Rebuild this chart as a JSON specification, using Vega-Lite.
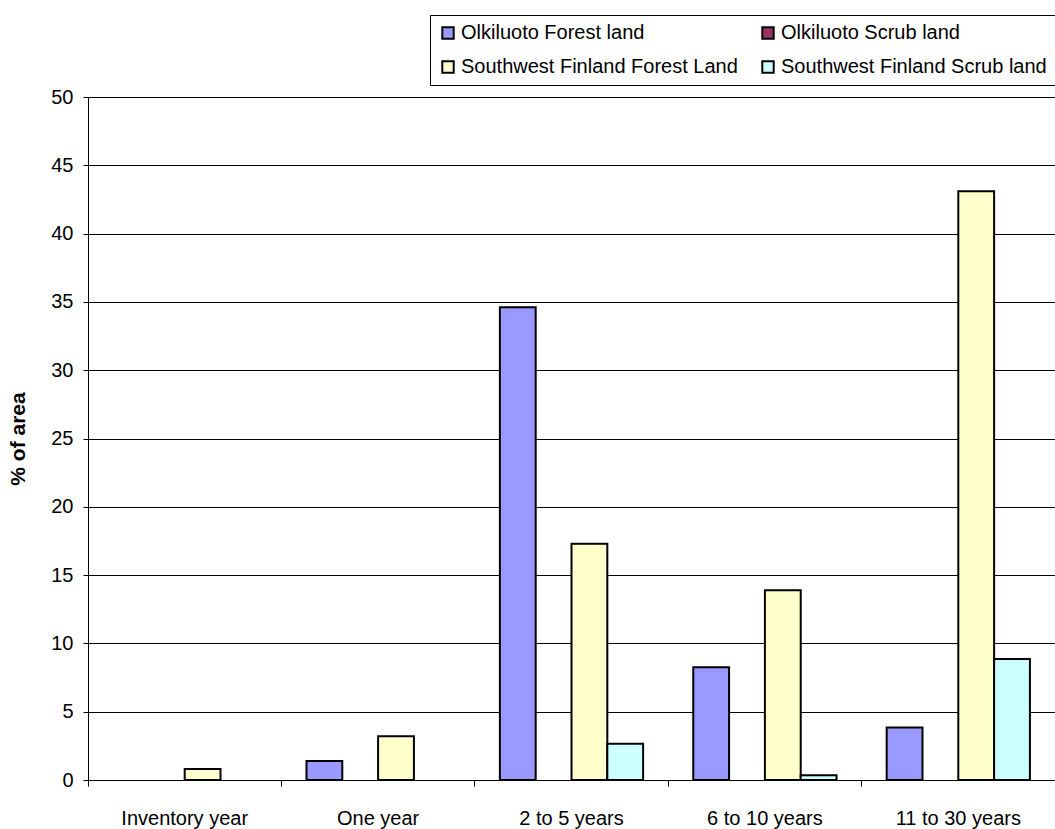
{
  "$schema": "https://vega.github.io/schema/vega-lite/v6.json",
  "autosize": "none",
  "padding": {"left": 88, "top": 97, "right": 0, "bottom": 49},
  "width": 967,
  "height": 683,
  "background": "white",
  "config": {
    "font": "Liberation Sans",
    "view": {"stroke": null}
  },
  "data": {
    "values": [
      {"category": "Inventory year", "series": "Southwest Finland Forest Land", "value": 0.8},
      {"category": "One year", "series": "Olkiluoto Forest land", "value": 1.4},
      {"category": "One year", "series": "Southwest Finland Forest Land", "value": 3.2},
      {"category": "2 to 5 years", "series": "Olkiluoto Forest land", "value": 34.6},
      {"category": "2 to 5 years", "series": "Southwest Finland Forest Land", "value": 17.3},
      {"category": "2 to 5 years", "series": "Southwest Finland Scrub land", "value": 2.65},
      {"category": "6 to 10 years", "series": "Olkiluoto Forest land", "value": 8.25},
      {"category": "6 to 10 years", "series": "Southwest Finland Forest Land", "value": 13.9},
      {"category": "6 to 10 years", "series": "Southwest Finland Scrub land", "value": 0.35},
      {"category": "11 to 30 years", "series": "Olkiluoto Forest land", "value": 3.85},
      {"category": "11 to 30 years", "series": "Southwest Finland Forest Land", "value": 43.1},
      {"category": "11 to 30 years", "series": "Southwest Finland Scrub land", "value": 8.85}
    ]
  },
  "mark": {"type": "bar", "stroke": "black", "strokeWidth": 2},
  "encoding": {
    "x": {
      "field": "category",
      "type": "nominal",
      "sort": ["Inventory year", "One year", "2 to 5 years", "6 to 10 years", "11 to 30 years"],
      "scale": {"domain": ["Inventory year", "One year", "2 to 5 years", "6 to 10 years", "11 to 30 years"], "paddingInner": 0, "paddingOuter": 0},
      "axis": {
        "title": null,
        "labelAngle": 0,
        "bandPosition": 0,
        "labelFontSize": 20,
        "labelColor": "black",
        "labelPadding": 22,
        "tickSize": 6,
        "tickColor": "black",
        "domainColor": "black",
        "domainWidth": 1,
        "grid": false
      }
    },
    "xOffset": {
      "field": "series",
      "type": "nominal",
      "scale": {"domain": ["Olkiluoto Forest land", "Olkiluoto Scrub land", "Southwest Finland Forest Land", "Southwest Finland Scrub land"], "paddingInner": 0, "paddingOuter": 0.7}
    },
    "y": {
      "field": "value",
      "type": "quantitative",
      "scale": {"domain": [0, 50], "nice": false},
      "axis": {
        "title": "% of area",
        "titleFontSize": 21,
        "titleFontWeight": "bold",
        "titleColor": "black",
        "titleAngle": -90,
        "titleBaseline": "middle",
        "titleX": -70,
        "values": [0, 5, 10, 15, 20, 25, 30, 35, 40, 45, 50],
        "labelFontSize": 20,
        "labelColor": "black",
        "labelPadding": 10,
        "tickSize": 5,
        "tickColor": "black",
        "domainColor": "black",
        "grid": true,
        "gridColor": "black",
        "gridWidth": 1
      }
    },
    "fill": {
      "field": "series",
      "type": "nominal",
      "scale": {
        "domain": ["Olkiluoto Forest land", "Olkiluoto Scrub land", "Southwest Finland Forest Land", "Southwest Finland Scrub land"],
        "range": ["#9999FF", "#993366", "#FFFFCC", "#CCFFFF"]
      },
      "legend": {
        "title": null,
        "orient": "none",
        "legendX": 342,
        "legendY": -82,
        "columns": 2,
        "direction": "horizontal",
        "columnPadding": 20,
        "rowPadding": 14,
        "padding": 8,
        "strokeColor": "black",
        "fillColor": "white",
        "symbolType": "square",
        "symbolSize": 130,
        "symbolStrokeColor": "black",
        "symbolStrokeWidth": 2,
        "labelFontSize": 20,
        "labelColor": "black",
        "labelLimit": 400,
        "labelOffset": 3
      }
    }
  }
}
